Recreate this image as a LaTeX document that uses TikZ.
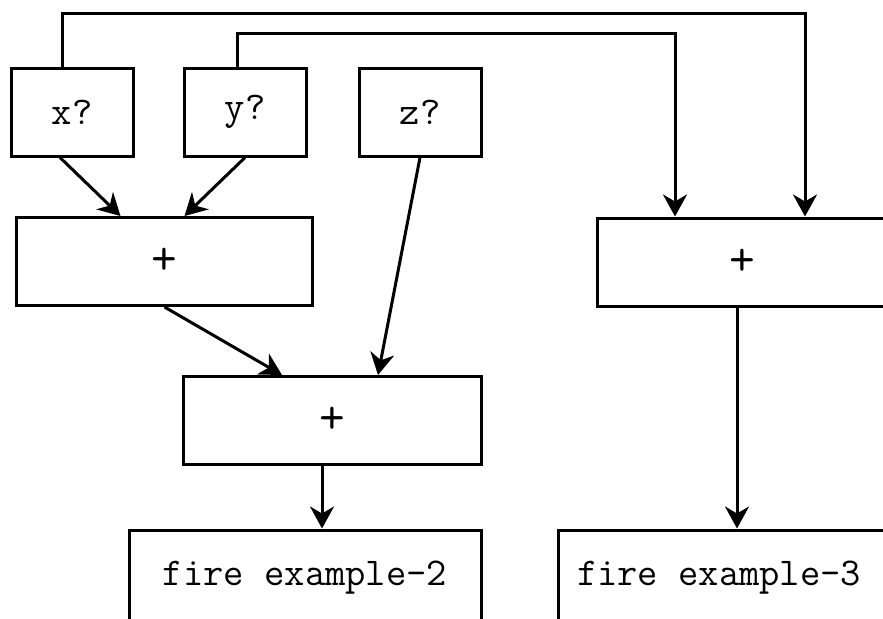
\documentclass[tikz,border=0pt]{standalone}
\usetikzlibrary{positioning, arrows.meta}

\begin{document}
\begin{tikzpicture}[x=0.5pt, y=0.5pt,
     line width=1.5pt,
     >={Stealth[length=11pt,width=12pt,inset=3.5pt]},
every node/.style = {font=\ttfamily\fontsize{19.7}{22}\selectfont},
        box/.style = {rectangle, draw, line width=1.5pt, minimum width=61pt, minimum height=44pt},
        sbox/.style = {rectangle, draw, line width=1.5pt, minimum width=148pt, minimum height=44pt,
                       font=\ttfamily\fontsize{25}{28}\selectfont},
        fbox/.style = {rectangle, draw, line width=1.5pt, minimum height=48pt}
                        ]
\useasboundingbox (0,0) rectangle (883,-618);
% inputs
\node (xq) [box] at (72,-112) {x?};
\node (yq) [box] at (245,-112) {y?};
\node (zq) [box] at (420,-112) {z?};
% adders
\node (pa) [sbox] at (164.5,-261.5) {+};
\node (pb) [sbox, minimum width=149pt] at (332,-420.5) {+};
\node (pc) [sbox, minimum width=145pt] at (742,-262) {+};
% results
\node (fb) [fbox, minimum width=176pt] at (305,-578) {fire example-2};
\node (fc) [fbox, minimum width=173.5pt] at (731.5,-578) {};
\node (fctext) [anchor=west, inner sep=0pt] at ([xshift=9.5pt]fc.west) {fire example-3};
\coordinate (topx) at (805,-13);
\coordinate (topy) at (675,-33);
\draw[->] ([xshift=-6pt]xq.south) to ([xshift=-22pt]pa.north);
\draw[->] (yq.south) to ([xshift=10pt]pa.north);
\draw[->] (zq.south) to ([xshift=23pt]pb.north);
\draw[->] (pa.south) to ([xshift=-25pt]pb.north);
\draw[->] ([xshift=-5pt]pb.south) to ([xshift=-5pt]pb.south |- fb.north);
\draw[->] ([xshift=-2.5pt]pc.south) to ([xshift=-2.5pt]pc.south |- fc.north);
\draw[->] ([xshift=-5pt]xq.north) |- (topx) -- (topx |- pc.north);
\draw[->] ([xshift=-4pt]yq.north) |- (topy) -- (topy |- pc.north);
\end{tikzpicture}
\end{document}
